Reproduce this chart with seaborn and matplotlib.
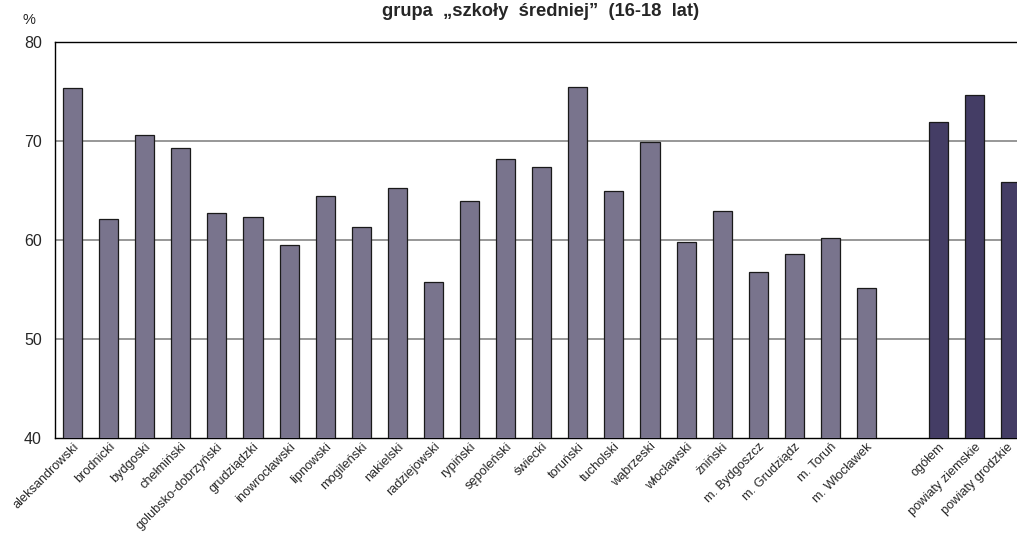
import matplotlib
matplotlib.use("Agg")
import matplotlib.pyplot as plt
import matplotlib.transforms as mtransforms
import seaborn as sns
import pandas as pd

# Districts (powiaty) and cities, followed by the summary groups
districts = [
    "aleksandrowski", "brodnicki", "bydgoski", "chełmiński", "golubsko-dobrzyński",
    "grudziądzki", "inowrocławski", "lipnowski", "mogileński", "nakielski",
    "radziejowski", "rypiński", "sępoleński", "świecki", "toruński", "tucholski",
    "wąbrzeski", "włocławski", "żniński", "m. Bydgoszcz", "m. Grudziądz",
    "m. Toruń", "m. Włocławek",
]
district_values = [
    75.4, 62.1, 70.6, 69.3, 62.7,
    62.35, 59.45, 64.4, 61.3, 65.3,
    55.8, 63.9, 68.2, 67.4, 75.5, 65.0,
    69.9, 59.8, 62.95, 56.8, 58.55,
    60.2, 55.15,
]
summary = ["ogółem", "powiaty ziemskie", "powiaty grodzkie"]
summary_values = [71.9, 74.6, 65.85]

y_ticks = [40, 50, 60, 70, 80]
title = "grupa  \u201eszkoły  średniej\u201d  (16-18  lat)"

LIGHT = "#767091"
DARK = "#3f366c"

df = pd.DataFrame({
    "name": districts + summary,
    "value": district_values + summary_values,
    "group": ["district"] * len(districts) + ["summary"] * len(summary),
})
# an empty slot separates the districts from the summary bars
order = districts + [" "] + summary

sns.set_theme(style="white")
plt.rcParams["font.family"] = ["Liberation Sans", "DejaVu Sans"]

fig = plt.figure(figsize=(10.17, 5.36), dpi=100)
ax = fig.add_axes([54.5 / 1017, 1 - 438 / 536, 974.5 / 1017, (438 - 42) / 536])

sns.barplot(
    data=df, x="name", y="value", hue="group", order=order,
    palette={"district": LIGHT, "summary": DARK},
    width=0.53, dodge=False, edgecolor="#1a1a1a", linewidth=0.9,
    legend=False, ax=ax, zorder=3,
)

ax.set_ylim(40, 80)
ax.set_xlim(-0.5, len(order) - 0.5)
ax.set_yticks(y_ticks)
ax.set_yticklabels([str(t) for t in y_ticks], fontsize=11.5)
ax.tick_params(axis="y", length=0, pad=9)
ax.tick_params(axis="x", length=0, pad=2)
ax.set_xticks(range(len(order)))
labels = ax.set_xticklabels(order, rotation=45, ha="right", rotation_mode="anchor", fontsize=9.2)
# keep the last, half-visible category's label inside the figure
labels[-1].set_transform(labels[-1].get_transform()
                         + mtransforms.ScaledTranslation(-4 / 100, 0, fig.dpi_scale_trans))
ax.set_xlabel("")
ax.set_ylabel("")

for t in [50, 60, 70]:
    ax.axhline(t, color="#7a7a7a", linewidth=1.1, zorder=1)

for side in ["left", "top", "bottom"]:
    ax.spines[side].set_color("#000000")
    ax.spines[side].set_linewidth(1.0)
ax.spines["right"].set_visible(False)

fig.text(0.532, 1 - 12 / 536, title, ha="center", va="center", fontsize=13.2, fontweight="bold")
fig.text(29 / 1017, 1 - 20 / 536, "%", ha="center", va="center", fontsize=10.5)

fig.savefig("out.png", dpi=100)
